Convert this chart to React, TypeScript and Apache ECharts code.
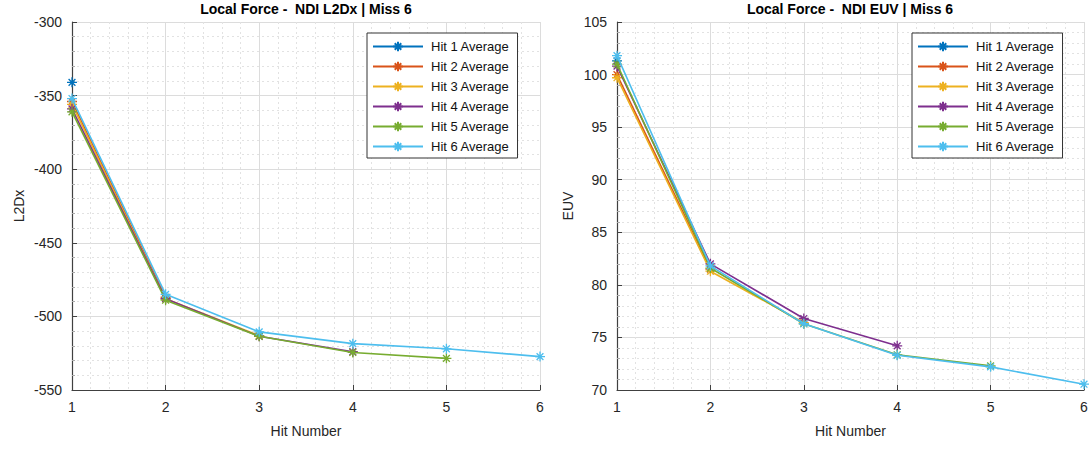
import React, { useEffect, useRef } from "react";
import * as echarts from "echarts";

const hitNumbers = [1, 2, 3, 4, 5, 6];
const seriesNames = ["Hit 1 Average", "Hit 2 Average", "Hit 3 Average", "Hit 4 Average", "Hit 5 Average", "Hit 6 Average"];
const colors = ["#0072BD", "#D95319", "#EDB120", "#7E2F8E", "#77AC30", "#4DBEEE"];

const l2dxHit1 = [-341];
const l2dxHit2 = [-354, -487];
const l2dxHit3 = [-356, -488, -513];
const l2dxHit4 = [-359, -488, -513.5, -524];
const l2dxHit5 = [-361, -489, -513.5, -524.5, -528.5];
const l2dxHit6 = [-352, -485, -510.5, -518.5, -522, -527.3];

const euvHit1 = [101.3];
const euvHit2 = [100.0, 81.5];
const euvHit3 = [99.7, 81.3, 76.4];
const euvHit4 = [100.8, 82.0, 76.8, 74.2];
const euvHit5 = [101.0, 81.6, 76.3, 73.35, 72.3];
const euvHit6 = [101.8, 81.8, 76.3, 73.3, 72.2, 70.55];

const l2dxSeries = [l2dxHit1, l2dxHit2, l2dxHit3, l2dxHit4, l2dxHit5, l2dxHit6];
const euvSeries = [euvHit1, euvHit2, euvHit3, euvHit4, euvHit5, euvHit6];

const leftTitle = "Local Force -  NDI L2Dx | Miss 6";
const rightTitle = "Local Force -  NDI EUV | Miss 6";

const ASTERISK = "path://M5 0L5 10M0 5L10 5M1.6 1.6L8.4 8.4M8.4 1.6L1.6 8.4";
const FONT = "Liberation Sans, Arial, Helvetica, sans-serif";
const TXT = "#262626";

function xAxisCfg(gridIndex: number) {
  return {
    type: "value",
    gridIndex,
    min: 1,
    max: 6,
    interval: 1,
    name: "Hit Number",
    nameLocation: "middle",
    nameGap: 34,
    nameTextStyle: { color: TXT, fontSize: 14, fontFamily: FONT },
    axisLine: { show: true, onZero: false, lineStyle: { color: "#404040", width: 1.2 } },
    axisTick: { show: true, inside: true, length: 5, lineStyle: { color: "#404040" } },
    axisLabel: { color: TXT, fontSize: 14, fontFamily: FONT, margin: 10 },
    splitLine: { show: true, lineStyle: { color: "#dcdcdc", width: 1 } },
    minorTick: { show: false, splitNumber: 5 },
    minorSplitLine: { show: true, lineStyle: { color: "#e2e2e2", type: [2, 3], width: 1 } },
  };
}

function yAxisCfg(gridIndex: number, name: string, min: number, max: number, interval: number, nameGap: number) {
  return {
    type: "value",
    gridIndex,
    min,
    max,
    interval,
    name,
    nameLocation: "middle",
    nameGap,
    nameTextStyle: { color: TXT, fontSize: 14, fontFamily: FONT },
    axisLine: { show: true, onZero: false, lineStyle: { color: "#404040", width: 1.2 } },
    axisTick: { show: true, inside: true, length: 5, lineStyle: { color: "#404040" } },
    axisLabel: { color: TXT, fontSize: 14, fontFamily: FONT, margin: 10 },
    splitLine: { show: true, lineStyle: { color: "#dcdcdc", width: 1 } },
    minorTick: { show: true, splitNumber: 5, length: 3, lineStyle: { color: "#aaaaaa" } },
    minorSplitLine: { show: true, lineStyle: { color: "#e2e2e2", type: [2, 3], width: 1 } },
  };
}

function buildSeries(data: number[][], axisIndex: number) {
  return data.map((vals, i) => ({
    name: seriesNames[i],
    type: "line",
    xAxisIndex: axisIndex,
    yAxisIndex: axisIndex,
    data: vals.map((v, j) => [hitNumbers[j], v]),
    symbol: ASTERISK,
    symbolSize: 10,
    showSymbol: true,
    lineStyle: { color: colors[i], width: 1.6 },
    itemStyle: { color: colors[i], borderColor: colors[i], borderWidth: 1.3 },
    z: 2 + i,
  }));
}

function legendCfg(left: number) {
  return {
    data: seriesNames,
    left,
    top: 33,
    orient: "vertical",
    backgroundColor: "#ffffff",
    borderColor: "#333333",
    borderWidth: 1,
    borderRadius: 0,
    padding: [7, 8, 5, 5],
    itemWidth: 50,
    itemHeight: 12,
    itemGap: 7,
    textStyle: { color: "#111", fontSize: 13, fontFamily: FONT, padding: [0, 0, 0, 3] },
    selectedMode: false,
  };
}

export default function App() {
  const ref = useRef<HTMLDivElement>(null);
  useEffect(() => {
    if (!ref.current) return;
    const chart = echarts.init(ref.current, null, { renderer: "svg" });
    chart.setOption({
      animation: false,
      backgroundColor: "#ffffff",
      color: colors,
      grid: [
        { left: 72, top: 22, width: 468, height: 368, containLabel: false },
        { left: 617, top: 22, width: 467, height: 368, containLabel: false },
      ],
      xAxis: [xAxisCfg(0), xAxisCfg(1)],
      yAxis: [
        yAxisCfg(0, "L2Dx", -550, -300, 50, 46),
        yAxisCfg(1, "EUV", 70, 105, 5, 42),
      ],
      legend: [legendCfg(367), legendCfg(912)],
      graphic: [
        {
          type: "text",
          x: 306,
          y: 9,
          style: { text: leftTitle, textAlign: "center", textVerticalAlign: "middle", fill: "#000", font: `bold 14px ${FONT}` },
        },
        {
          type: "text",
          x: 850,
          y: 9,
          style: { text: rightTitle, textAlign: "center", textVerticalAlign: "middle", fill: "#000", font: `bold 14px ${FONT}` },
        },
      ],
      series: [...buildSeries(l2dxSeries, 0), ...buildSeries(euvSeries, 1)],
    });
    return () => chart.dispose();
  }, []);
  return <div ref={ref} style={{ position: "absolute", left: 0, top: 0, width: 1091, height: 449 }} />;
}
